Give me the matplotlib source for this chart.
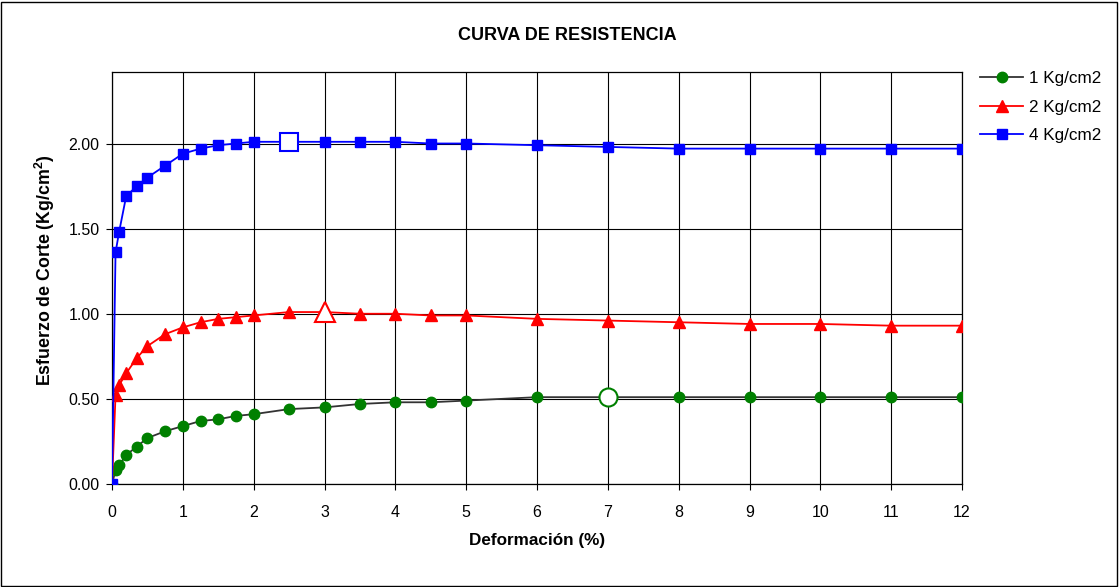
import matplotlib.pyplot as plt
from matplotlib.patches import Rectangle

plt.rcParams['font.family'] = ['Liberation Sans', 'DejaVu Sans']
plt.rcParams['mathtext.fontset'] = 'custom'
plt.rcParams['mathtext.rm'] = 'Liberation Sans'
plt.rcParams['mathtext.bf'] = 'Liberation Sans:bold'

# deformacion (%) y esfuerzo de corte para cada carga normal
deformacion = [0, 0.05, 0.1, 0.2, 0.35, 0.5, 0.75, 1.0, 1.25, 1.5, 1.75, 2.0,
               2.5, 3.0, 3.5, 4.0, 4.5, 5, 6, 7, 8, 9, 10, 11, 12]
esf_1 = [0, 0.08, 0.11, 0.17, 0.22, 0.27, 0.31, 0.34, 0.37, 0.38, 0.40, 0.41,
         0.44, 0.45, 0.47, 0.48, 0.48, 0.49, 0.51, 0.51, 0.51, 0.51, 0.51, 0.51, 0.51]
esf_2 = [0, 0.52, 0.58, 0.65, 0.74, 0.81, 0.88, 0.92, 0.95, 0.97, 0.98, 0.99,
         1.01, 1.01, 1.00, 1.00, 0.99, 0.99, 0.97, 0.96, 0.95, 0.94, 0.94, 0.93, 0.93]
esf_4 = [0, 1.36, 1.48, 1.69, 1.75, 1.80, 1.87, 1.94, 1.97, 1.99, 2.00, 2.01,
         2.01, 2.01, 2.01, 2.01, 2.00, 2.00, 1.99, 1.98, 1.97, 1.97, 1.97, 1.97, 1.97]

# puntos de resistencia maxima
pico_x = [7, 3.0, 2.5]
pico_y = [0.51, 1.01, 2.01]

etiquetas = ['1 Kg/cm2', '2 Kg/cm2', '4 Kg/cm2']
x_ticks = list(range(0, 13))
y_ticks = [0.0, 0.5, 1.0, 1.5, 2.0]

W, H = 1119, 587
fig = plt.figure(figsize=(W / 100, H / 100), dpi=100)
fig.patches.append(Rectangle((1 / W, 1 / H), 1 - 3 / W, 1 - 3 / H,
                             transform=fig.transFigure, fill=False,
                             edgecolor='black', linewidth=1))

ax = fig.add_axes([112 / W, 1 - 484 / H, 850 / W, 412 / H])

ax.plot(deformacion, esf_1, color='#333333', linewidth=1.3, marker='o',
        markersize=7.5, markerfacecolor='green', markeredgecolor='green',
        label=etiquetas[0], zorder=3)
ax.plot(deformacion, esf_2, color='red', linewidth=1.3, marker='^',
        markersize=8, markerfacecolor='red', markeredgecolor='red',
        label=etiquetas[1], zorder=3)
ax.plot(deformacion, esf_4, color='blue', linewidth=1.3, marker='s',
        markersize=7.5, markerfacecolor='blue', markeredgecolor='blue',
        label=etiquetas[2], zorder=3)

# marcadores abiertos en los picos
ax.plot(pico_x[0], pico_y[0], marker='o', markersize=13, markerfacecolor='white',
        markeredgecolor='green', markeredgewidth=1.5, linestyle='none', zorder=4)
ax.plot(pico_x[1], pico_y[1], marker='^', markersize=14, markerfacecolor='white',
        markeredgecolor='red', markeredgewidth=1.5, linestyle='none', zorder=4)
ax.plot(pico_x[2], pico_y[2], marker='s', markersize=13, markerfacecolor='white',
        markeredgecolor='blue', markeredgewidth=1.5, linestyle='none', zorder=4)

ax.set_xlim(0, 12)
ax.set_ylim(0, 2.42)
ax.set_xticks(x_ticks)
ax.set_yticks(y_ticks)
ax.set_yticklabels(['%.2f' % v for v in y_ticks])
ax.tick_params(labelsize=11.5, length=4, direction='out', color='black')
ax.tick_params(axis='x', pad=11)
ax.tick_params(axis='y', pad=5)
ax.grid(True, color='black', linewidth=0.8)
ax.set_axisbelow(True)
for s in ax.spines.values():
    s.set_color('black')
    s.set_linewidth(0.9)

ax.set_xlabel('Deformación (%)', fontsize=12.3, fontweight='bold', va='center')
ax.set_ylabel(r'Esfuerzo de Corte (Kg/cm$^{\mathbf{2}}$)', fontsize=12.8,
              fontweight='bold', va='center')
ax.xaxis.set_label_coords(0.5, -(541 - 484) / 412)
ax.yaxis.set_label_coords((45 - 112) / 850, 0.52)
fig.text(567 / W, 1 - 35 / H, 'CURVA DE RESISTENCIA', ha='center', va='center',
         fontsize=13, fontweight='bold')

fig.legend(loc='upper left', bbox_to_anchor=(965 / W, 1 - 56 / H), frameon=False,
           fontsize=12.3, handlelength=2.5, handletextpad=0.35, labelspacing=0.78)

fig.savefig('out.png', dpi=100)
